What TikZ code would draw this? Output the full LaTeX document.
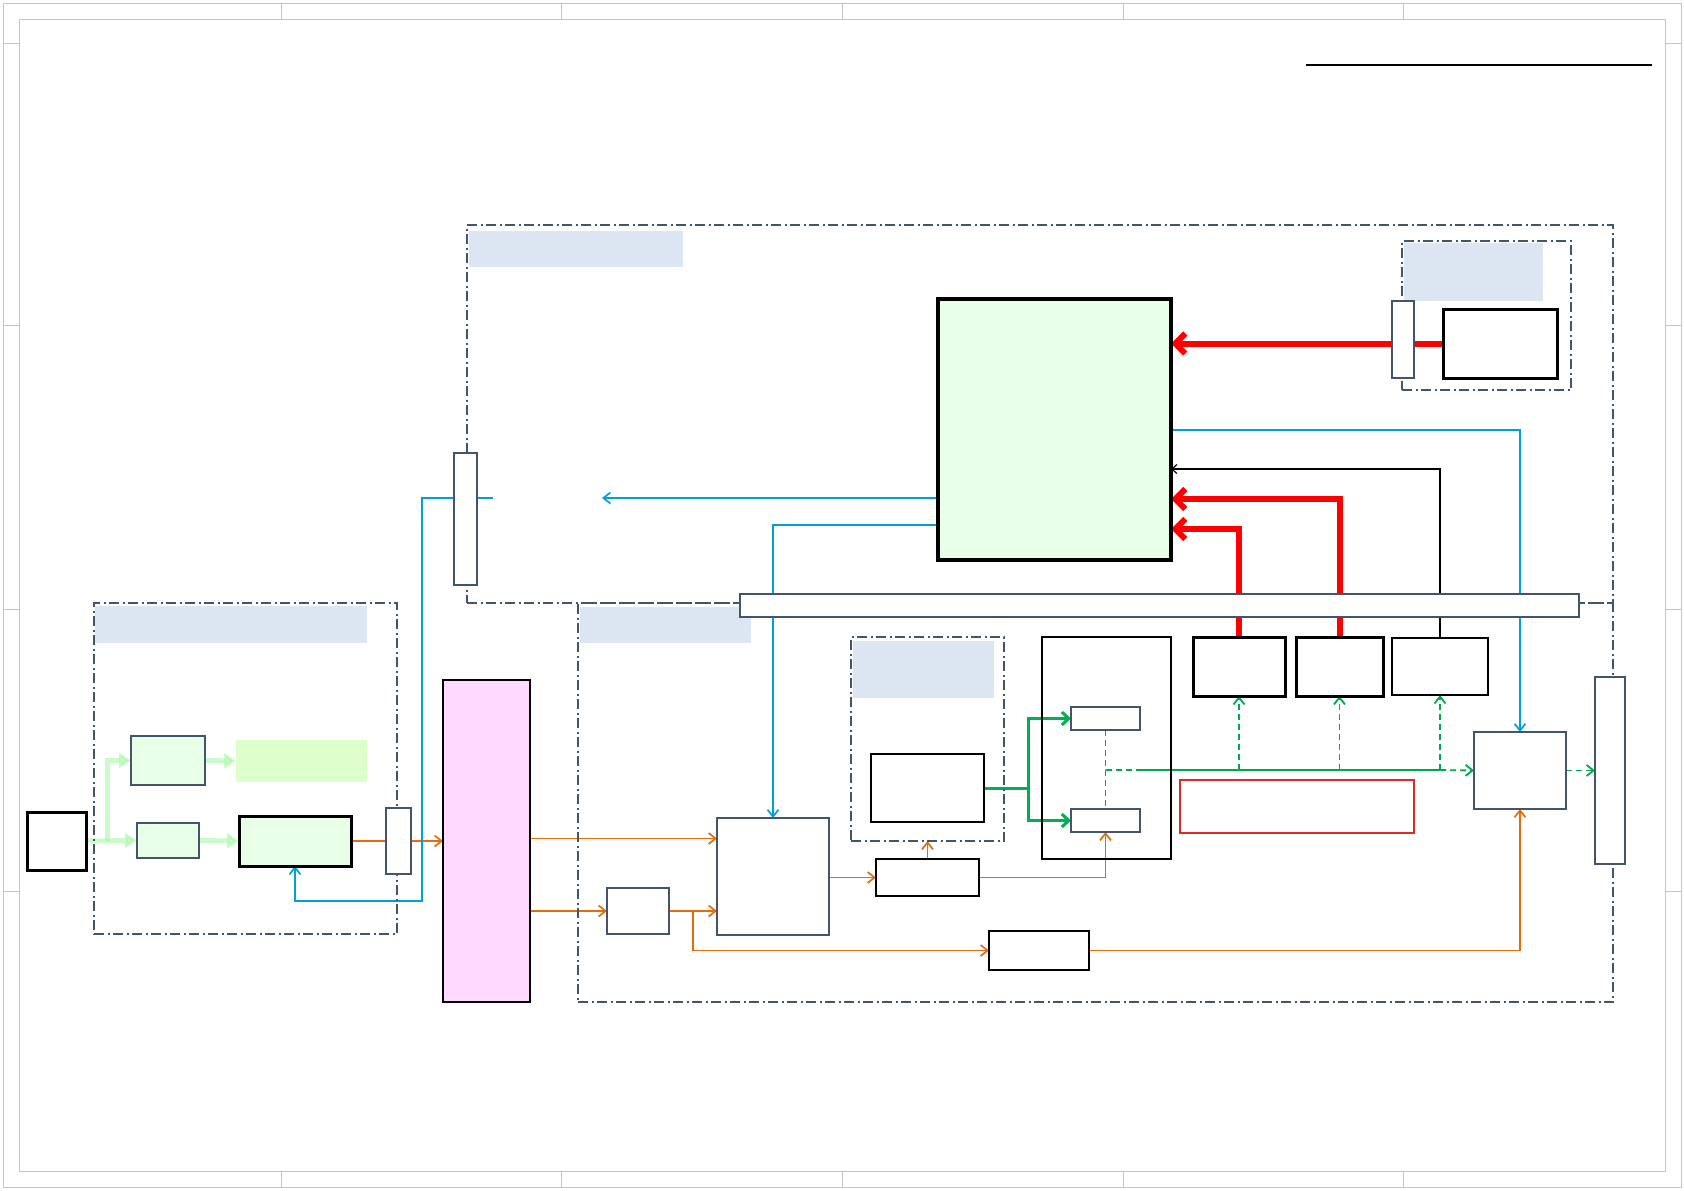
\documentclass[tikz,border=0pt]{standalone}
\usetikzlibrary{arrows.meta}
\pgfdeclarelayer{bg}
\pgfsetlayers{bg,main}
\definecolor{frm}{HTML}{C4C4C4}
\definecolor{slate}{HTML}{44546A}
\definecolor{band}{HTML}{DCE6F2}
\definecolor{lgreen}{HTML}{E6FFE6}
\definecolor{mgreen}{HTML}{DDFFCC}
\definecolor{pinkf}{HTML}{FFD9FF}
\definecolor{cyanl}{HTML}{00A0DC}
\definecolor{orng}{HTML}{E46C0A}
\definecolor{grn}{HTML}{00B050}
\definecolor{grnd}{HTML}{00A84F}
\definecolor{ltarrow}{HTML}{A8F8A8}
\definecolor{redbox}{HTML}{E02828}
\newcommand\mkbox[6]{\node[#1,anchor=north west,inner sep=0pt,outer sep=0pt,minimum width={(#5-#3)*1pt},minimum height={(#6-#4)*1pt}] (#2) at (#3,#4) {};}
\tikzset{
  ddot/.style={draw=slate,line width=1.5pt,dash pattern=on 10pt off 3.5pt on 2pt off 3.5pt},
  bandbox/.style={fill=band},
  slbox/.style={draw=slate,line width=1.5pt,fill=white},
  thinbox/.style={draw=black,line width=1.3pt,fill=white},
  thickbox/.style={draw=black,line width=3pt,fill=white},
  ora/.style={draw=orng,line width=1.7pt,-{Straight Barb[length=7pt,width=11pt]}},
  cya/.style={draw=cyanl,line width=1.7pt,-{Straight Barb[length=7pt,width=11pt]}},
  bka/.style={draw=black,line width=1.2pt,-{Straight Barb[length=5pt,width=9pt]}},
  rda/.style={draw=red,line width=6pt,-{Straight Barb[length=10pt,width=20pt]}},
  gth/.style={draw=grn,line width=3pt,-{Straight Barb[length=7pt,width=13pt]}},
  gdl/.style={draw=grnd,line width=1.8pt,dash pattern=on 6pt off 4pt},
  gsl/.style={draw=grnd,line width=1.8pt},
  gda/.style={draw=grnd,line width=1.8pt,dash pattern=on 6pt off 4pt,-{Straight Barb[length=7pt,width=11pt]}},
  lga/.style={draw=ltarrow,draw opacity=0.6,fill opacity=0.6,line width=5pt,-{Triangle[length=12pt,width=15pt,fill=ltarrow]}}
}
\begin{document}
\begin{tikzpicture}[x=1pt,y=-1pt]
\useasboundingbox (0,0) rectangle (1684,1191);
% sheet frame
\draw[frm,line width=1pt] (3,3) rectangle (1681,1187);
\draw[frm,line width=1pt] (19,19) rectangle (1665,1171);
\foreach \xx in {281,561,842,1123,1403}{
  \draw[frm,line width=1pt] (\xx,3) -- (\xx,19);
  \draw[frm,line width=1pt] (\xx,1171) -- (\xx,1187);}
\foreach \yy in {43,325,609,891}{
  \draw[frm,line width=1pt] (3,\yy) -- (19,\yy);
  \draw[frm,line width=1pt] (1665,\yy) -- (1681,\yy);}
\coordinate (tl1) at (1306,65);
\coordinate (tl2) at (1652,65);
\draw[line width=2.5pt] (tl1) -- (tl2);
% frames
\mkbox{ddot}{F1}{467}{225}{1613}{603}
\mkbox{ddot}{F2}{578}{603}{1613}{1002}
\mkbox{ddot}{F3}{94}{603}{397}{934}
\mkbox{ddot}{F4}{1402}{241}{1571}{390}
\mkbox{ddot}{F5}{851}{637}{1004}{841}
% bands
\mkbox{bandbox}{L1}{469}{231}{683}{267}
\mkbox{bandbox}{L2}{1404}{243}{1543}{301}
\mkbox{bandbox}{L3}{95}{606}{367}{643}
\mkbox{bandbox}{L4}{580}{607}{751}{643}
\mkbox{bandbox}{L5}{853}{641}{994}{698}
% slate boxes
\mkbox{slbox}{cU}{454}{453}{477}{585}
\mkbox{slbox}{cR}{1392}{301}{1414}{378}
\mkbox{slbox}{bar}{740}{594}{1579}{617}
\mkbox{slbox,fill=lgreen}{Lb}{131}{736}{205}{785}
\mkbox{slbox,fill=lgreen}{Kb}{137}{823}{199}{858}
\mkbox{slbox}{Ob}{386}{808}{411}{874}
\mkbox{slbox}{Ib}{607}{888}{669}{934}
\mkbox{slbox}{Hb}{717}{818}{829}{935}
\mkbox{slbox}{s1}{1071}{707}{1140}{730}
\mkbox{slbox}{s2}{1071}{809}{1140}{832}
\mkbox{slbox}{Db}{1474}{732}{1566}{809}
\mkbox{slbox}{Eb}{1595}{677}{1625}{864}
% thin black boxes
\mkbox{thinbox}{Qb}{871}{754}{984}{822}
\mkbox{thinbox,fill=none}{Tb}{1042}{637}{1171}{859}
\mkbox{thinbox}{Cb}{1392}{638}{1488}{695}
\mkbox{thinbox}{Fb}{876}{859}{979}{896}
\mkbox{thinbox}{Gb}{989}{931}{1089}{970}
% thick black boxes
\mkbox{thickbox}{Jb}{27}{812}{86}{870}
\mkbox{thickbox,fill=lgreen}{Nb}{239}{816}{351}{866}
\mkbox{thickbox,fill=lgreen,line width=3.3pt}{GB}{938}{299}{1171}{560}
\mkbox{thickbox}{Ab}{1193}{637}{1285}{696}
\mkbox{thickbox}{Bb}{1296}{637}{1383}{696}
\mkbox{thickbox}{Rb}{1443}{309}{1557}{378}
% others
\mkbox{draw=black,line width=2pt,fill=pinkf}{Pb}{443}{680}{530}{1002}
\mkbox{draw=redbox,line width=1.2pt}{RB}{1180}{780}{1414}{833}
\mkbox{fill=mgreen}{Mb}{236}{740}{367}{782}
% helper coordinates
\coordinate (gsplit) at (107,841);
\coordinate (osplit) at (693,911);
\coordinate (cyT) at (602,498);
\coordinate (cyS) at (493,498);
\coordinate (cyV) at (422,901);
\coordinate (gq) at (1028,788);
\coordinate (gd1) at (1140,770);
\begin{pgfonlayer}{bg}
% light green
\draw[lga] (Jb.east) -- (Kb.west);
\draw[lga] (gsplit) |- (Lb.west);
\draw[lga] (Lb.east) -- (Mb.west);
\draw[lga] (Kb.east) -- (Nb.west);
% orange
\draw[ora] (Nb.east) -- (Pb.west |- Nb.east);
\draw[ora] (Pb.east |- 0,838.5) -- (Hb.west |- 0,838.5);
\draw[ora] (Pb.east |- Ib.west) -- (Ib.west);
\draw[ora] (Ib.east) -- (Hb.west |- Ib.east);
\draw[ora] (osplit) |- (Gb.west);
\draw[ora] (Gb.east) -| (Db.south);
\draw[ora] (Hb.east |- Fb.west) -- (Fb.west);
\draw[ora] (Fb.north) -- (Fb.north |- F5.south);
\draw[ora] (Fb.east) -| (s2.south);
% cyan
\draw[cya] (GB.west |- cyT) -- (cyT);
\draw[cya] (cyS) -| (cyV) -| (Nb.south);
\draw[cya] (GB.west |- 0,525) -| (Hb.north);
\draw[cya] (GB.east |- 0,430) -| (Db.north);
% black
\draw[bka] (Cb.north) |- (GB.east |- 0,469);
% red
\draw[rda] (Rb.west) -- (GB.east |- Rb.west);
\draw[rda] (Bb.north) |- (GB.east |- 0,499);
\draw[rda] (Ab.north) |- (GB.east |- 0,529);
% green thick
\draw[gth] (Qb.east) -- (gq) |- (s1.west);
\draw[gth] (gq) |- (s2.west);
% green dashed
\draw[gdl] (s1.south) -- (s2.north);
\draw[gdl] (s1.south |- gd1) -- (gd1);
\draw[gsl] (gd1) -- (Cb.south |- gd1);
\draw[gda] (Cb.south |- gd1) -- (Db.west);
\draw[gda] (Ab.south |- gd1) -- (Ab.south);
\draw[gda] (Bb.south |- gd1) -- (Bb.south);
\draw[gda] (Cb.south |- gd1) -- (Cb.south);
\draw[gda] (Db.east) -- (Eb.west |- Db.east);
\end{pgfonlayer}
\end{tikzpicture}
\end{document}
